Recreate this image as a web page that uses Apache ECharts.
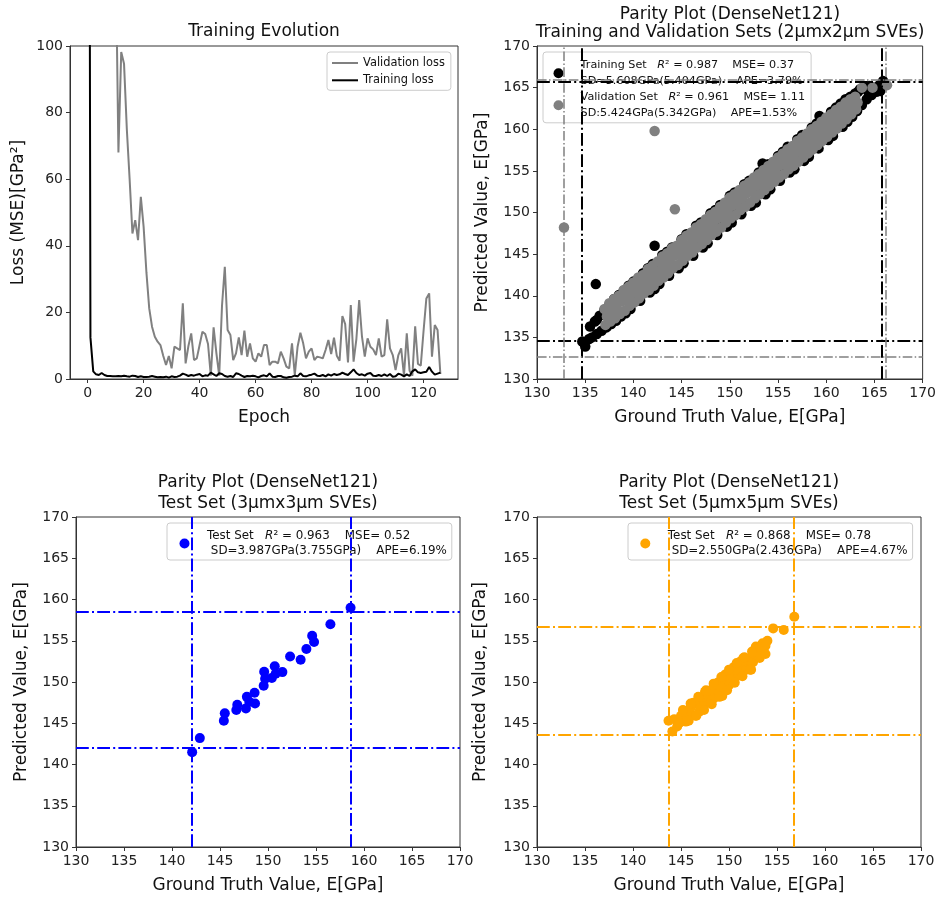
<!DOCTYPE html>
<html>
<head>
<meta charset="utf-8">
<title>DenseNet121 training and parity plots</title>
<script src="https://cdn.jsdelivr.net/npm/echarts@6.0.0/dist/echarts.min.js"></script>
<style>
html, body { margin: 0; padding: 0; background: #fff; }
#chart { width: 939px; height: 901px; }
</style>
</head>
<body>
<div id="chart"></div>
<script>
// loss per epoch (array index = epoch)
var valLoss = [
  950, 700, 520, 410, 340, 280, 240, 200, 170, 150,
  130, 68, 98.2, 94.7, 75, 60, 43.7, 47.7, 41.7, 54.7,
  45.7, 32, 21.2, 15.7, 12.7, 11.2, 10.2, 7.0, 4.2, 6.9,
  3.2, 9.7, 9.2, 8.7, 22.7, 4.7, 9.9, 13.7, 5.7, 6.2,
  10.2, 14.2, 13.5, 10.5, 1.0, 15.5, 7.7, 1.0, 22, 33.7,
  14.7, 13.2, 5.7, 7.7, 12.5, 7.2, 14.5, 6.7, 10.7, 6.2,
  5.2, 7.7, 6.7, 10.2, 10.2, 4.2, 5.2, 5.2, 4.7, 8.2,
  6.2, 3.7, 3.2, 10.7, 1.2, 9.7, 13.9, 10.7, 6.2, 8.2,
  9.2, 5.7, 6.7, 6.5, 6.2, 8.7, 11.7, 7.5, 12.4, 7.0,
  5.5, 18.9, 16.5, 5.0, 22.2, 5.2, 12.0, 23.7, 12.7, 6.7,
  12.2, 9.7, 8.9, 7.2, 12.2, 6.7, 7.2, 17.9, 9.2, 7.2,
  2.7, 7.2, 9.2, 1.0, 13.7, 2.5, 1.0, 15.8, 4.5, 4.0,
  14.5, 24.2, 25.7, 6.7, 16.2, 14.7, 1.5
];
var trainLoss = [
  450, 12.5, 2.3, 1.4, 1.2, 1.8, 1.2, 0.9, 0.9, 0.8,
  0.8, 0.9, 0.8, 1.0, 0.8, 0.7, 1.0, 0.9, 0.6, 0.8,
  0.6, 0.6, 0.7, 0.9, 0.7, 0.5, 0.6, 0.5, 0.7, 0.4,
  0.8, 0.6, 0.7, 1.0, 1.6, 1.3, 0.9, 1.2, 1.0, 1.3,
  1.5, 0.8, 1.1, 1.0, 1.9, 1.4, 0.9, 1.7, 1.5, 0.9,
  0.7, 0.9, 0.6, 1.7, 1.5, 1.0, 0.6, 0.9, 0.8, 1.0,
  0.8, 0.5, 0.9, 1.1, 0.8, 1.7, 0.7, 0.6, 0.9, 0.9,
  0.5, 0.4, 0.6, 0.7, 1.0, 0.8, 1.7, 0.9, 0.8, 1.1,
  1.3, 1.6, 1.0, 0.9, 1.2, 0.8, 1.4, 1.0, 1.5, 1.2,
  1.4, 1.9, 1.5, 1.2, 2.0, 2.9, 1.8, 1.2, 1.4, 1.0,
  1.6, 1.8, 1.0, 0.9, 1.2, 0.9, 1.4, 0.9, 1.5, 0.7,
  0.8, 1.6, 1.3, 0.8, 1.4, 0.9, 2.3, 2.9, 2.0, 1.8,
  2.0, 2.2, 3.6, 2.2, 1.3, 1.6, 1.9
];
var epochTicks = [0, 20, 40, 60, 80, 100, 120];

// [ground truth, predicted] in GPa
var trainSet = [
  [134.7,134.5],[135.0,133.9],[135.4,134.8],[136.2,137.1],[136.1,141.4],[141.5,143.2],[142.2,146.0],[153.4,155.9],
  [155.2,156.7],[159.3,161.6],[165.9,165.8],[163.3,164.5],[164.3,164.6],
  [135.5,136.3],[135.7,135.0],[136.0,136.9],[136.2,135.4],[136.5,137.6],[136.7,135.8],[137.0,138.3],[137.2,136.2],
  [137.5,138.9],[137.7,136.6],[138.0,139.6],[138.2,137.0],[138.5,140.1],[138.7,137.5],[139.0,140.6],[139.2,137.9],
  [139.5,141.2],[139.7,138.4],[140.0,141.7],[140.2,139.5],[140.5,142.0],[140.7,139.4],[141.0,142.7],[141.2,140.5],
  [141.5,143.3],[141.7,140.4],[142.0,143.8],[142.2,140.8],[142.5,143.9],[142.7,141.4],[143.0,144.9],[143.2,142.5],
  [143.5,145.3],[143.7,142.4],[144.0,145.8],[144.2,143.5],[144.5,145.9],[144.7,143.3],[145.0,146.8],[145.2,143.9],
  [145.5,147.4],[145.7,144.9],[146.0,147.5],[146.2,144.8],[146.5,148.4],[146.7,145.9],[147.0,148.8],[147.2,145.8],
  [147.5,149.0],[147.7,146.3],[148.0,149.9],[148.2,147.4],[148.5,150.3],[148.7,147.3],[149.0,150.9],[149.2,148.4],
  [149.5,151.0],[149.7,148.3],[150.0,152.0],[150.2,148.8],[150.5,152.4],[150.7,149.9],[151.0,152.5],[151.2,149.8],
  [151.5,153.4],[151.7,150.9],[152.0,153.8],[152.2,150.8],[152.5,154.0],[152.7,151.2],[153.0,154.8],[153.2,152.4],
  [153.5,155.3],[153.7,152.2],[154.0,155.8],[154.2,152.8],[154.5,156.0],[154.7,153.9],[155.0,156.8],[155.2,153.8],
  [155.5,157.3],[155.7,154.9],[156.0,157.9],[156.2,154.8],[156.5,157.9],[156.7,155.2],[157.0,158.8],[157.2,156.4],
  [157.5,159.3],[157.7,156.2],[158.0,159.4],[158.2,156.7],[158.5,160.2],[158.7,157.9],[159.0,160.7],[159.2,157.7],
  [159.5,161.2],[159.7,158.9],[160.0,161.3],[160.2,158.7],[160.5,162.1],[160.7,159.2],[161.0,162.6],[161.2,160.4],
  [161.5,163.1],[161.7,160.3],[162.0,163.6],[162.2,160.9],[162.5,163.9],[162.7,161.5],[163.0,164.3],[163.2,162.2],
  [163.5,164.8],[163.7,162.9],[164.0,165.1],[164.2,163.6],[164.5,165.2],[164.7,164.1],[165.0,165.0],[165.2,164.5],
  [165.5,165.3],[165.6,164.6]
];
var validSet = [
  [132.8,148.2],[142.2,159.8],[144.3,150.4],[166.3,165.3],[163.7,165.0],[164.8,165.0],
  [137.0,138.4],[137.25,137.5],[137.1,136.5],[137.5,139.1],[137.75,138.2],[137.6,136.9],
  [138.0,139.6],[138.25,138.6],[138.1,137.3],[138.5,140.0],[138.75,139.3],[138.6,137.8],
  [139.0,140.7],[139.25,139.6],[139.1,138.2],[139.5,141.1],[139.75,140.2],[139.6,138.8],
  [140.0,141.6],[140.25,140.6],[140.1,139.2],[140.5,142.2],[140.75,141.2],[140.6,139.7],
  [141.0,142.5],[141.25,141.7],[141.1,140.3],[141.5,143.2],[141.75,142.1],[141.6,140.7],
  [142.0,143.6],[142.25,142.7],[142.1,141.2],[142.5,144.1],[142.75,143.0],[142.6,141.8],
  [143.0,144.7],[143.25,143.7],[143.1,142.2],[143.5,145.1],[143.75,144.1],[143.6,142.7],
  [144.0,145.7],[144.25,144.8],[144.1,143.3],[144.5,146.0],[144.75,145.1],[144.6,143.7],
  [145.0,146.7],[145.25,145.8],[145.1,144.2],[145.5,147.2],[145.75,146.1],[145.6,144.8],
  [146.0,147.6],[146.25,146.8],[146.1,145.2],[146.5,148.2],[146.75,147.2],[146.6,145.8],
  [147.0,148.6],[147.25,147.7],[147.1,146.2],[147.5,149.2],[147.75,148.3],[147.6,146.7],
  [148.0,149.7],[148.25,148.7],[148.1,147.3],[148.5,150.1],[148.75,149.3],[148.6,147.7],
  [149.0,150.7],[149.25,149.8],[149.1,148.2],[149.5,151.2],[149.75,150.3],[149.6,148.8],
  [150.0,151.8],[150.25,150.8],[150.1,149.3],[150.5,152.2],[150.75,151.3],[150.6,149.7],
  [151.0,152.7],[151.25,151.7],[151.1,150.3],[151.5,153.2],[151.75,152.3],[151.6,150.7],
  [152.0,153.6],[152.25,152.7],[152.1,151.2],[152.5,154.2],[152.75,153.2],[152.6,151.7],
  [153.0,154.6],[153.25,153.7],[153.1,152.2],[153.5,155.1],[153.75,154.2],[153.6,152.7],
  [154.0,155.6],[154.25,154.6],[154.1,153.2],[154.5,156.1],[154.75,155.2],[154.6,153.7],
  [155.0,156.6],[155.25,155.7],[155.1,154.2],[155.5,157.1],[155.75,156.1],[155.6,154.6],
  [156.0,157.6],[156.25,156.6],[156.1,155.2],[156.5,158.0],[156.75,157.1],[156.6,155.6],
  [157.0,158.6],[157.25,157.6],[157.1,156.1],[157.5,159.0],[157.75,158.1],[157.6,156.6],
  [158.0,159.5],[158.25,158.5],[158.1,157.1],[158.5,160.0],[158.75,159.0],[158.6,157.6],
  [159.0,160.4],[159.25,159.5],[159.1,158.1],[159.5,160.9],[159.75,160.0],[159.6,158.6],
  [160.0,161.4],[160.25,160.4],[160.1,159.1],[160.5,161.8],[160.75,160.9],[160.6,159.6],
  [161.0,162.3],[161.25,161.4],[161.1,160.1],[161.5,162.7],[161.75,161.8],[161.6,160.7],
  [162.0,163.2],[162.25,162.3],[162.1,161.2],[162.5,163.6],[162.75,162.8],[162.6,161.8],
  [163.0,163.9],[163.25,163.2],[163.1,162.4]
];
var test3Set = [
  [158.6,159.0],[156.5,157.0],[154.6,155.6],[154.8,154.85],[154.0,154.0],[153.4,152.7],[152.3,153.1],[151.5,151.2],
  [150.7,151.9],[150.8,151.0],[150.4,150.5],[149.6,151.25],[149.7,150.4],[149.55,149.55],[148.6,148.7],[148.65,147.4],
  [147.8,148.2],[147.7,146.8],[146.8,147.25],[146.7,146.6],[148.05,147.6],[145.5,146.2],[145.4,145.3],[142.9,143.2],
  [142.1,141.5]
];
var test5Set = [
  [143.7,145.3],[144.1,144.0],[144.3,145.5],[144.6,144.6],[145.0,145.9],[145.3,146.3],[145.5,145.2],[145.8,146.6],
  [146.1,146.1],[146.3,147.5],[146.5,145.9],[146.8,147.3],[147.0,146.8],[147.2,148.1],[147.4,147.3],[147.5,148.8],
  [147.7,147.8],[147.9,148.4],[148.1,147.6],[148.3,149.2],[148.5,148.5],[148.7,149.6],[148.8,149.9],[149.0,148.9],
  [149.2,150.3],[149.3,148.3],[149.5,149.6],[149.6,150.9],[149.8,150.4],[150.0,149.6],[150.2,151.2],[150.4,150.0],
  [150.5,151.8],[150.7,151.1],[150.9,152.2],[151.1,151.4],[151.2,152.5],[151.4,151.8],[151.6,152.3],[151.8,151.5],
  [152.0,152.7],[152.3,151.5],[152.3,153.0],[152.5,152.4],[152.8,154.3],[152.9,153.1],[153.1,153.6],[153.3,154.2],
  [153.5,154.7],[153.6,153.7],[153.8,154.4],[154.0,155.0],[154.6,156.5],[155.7,156.3],[156.8,157.9],[146.0,146.9],
  [147.3,147.0],[148.0,148.9],[149.1,149.4],[150.3,150.7],[151.0,150.8],[151.5,152.9],[152.7,153.4],[145.6,146.0],
  [144.8,145.0],[146.9,146.4],[148.4,148.0],[150.8,151.5],[153.0,154.0],
  [145.2,146.6],[146.0,147.4],[146.8,148.2],[147.6,149.0],[148.4,149.8],[149.2,150.6],[150.0,151.5],[150.8,152.3],
  [151.6,153.0],[152.4,153.7],[145.8,145.3],[146.6,145.9],[147.4,146.6],[148.2,147.3],[149.0,148.2],[149.8,149.0],
  [150.6,149.9],[151.4,150.7],[152.2,151.5],[153.2,152.9],[153.8,153.4]
];

// dash-dot bounds [low, high]
var trainLimX = [134.65, 165.8], trainLimY = [134.56, 165.76];
var validLimX = [132.75, 166.15], validLimY = [132.64, 165.96];
var test3LimX = [142.1, 158.6], test3LimY = [142.0, 158.5];
var test5LimX = [143.7, 156.7], test5LimY = [143.6, 156.7];

var FONT = 'DejaVu Sans';
var chart = echarts.init(document.getElementById('chart'));

function axis(grid, name, gap, min, max, interval) {
  return {
    type: 'value', gridIndex: grid, min: min, max: max, interval: interval,
    name: name, nameLocation: 'middle', nameGap: gap,
    nameTextStyle: { fontFamily: FONT, fontSize: 17, color: '#111' },
    axisLine: { show: true, onZero: false, lineStyle: { color: '#333' } },
    axisTick: { show: true, length: 4, lineStyle: { color: '#333' } },
    axisLabel: { fontFamily: FONT, fontSize: 14, color: '#222', margin: 7 },
    splitLine: { show: false }
  };
}

function guide(limX, limY, color, width) {
  var dash = width >= 2 ? [12.8, 3.2, 2, 3.2] : [9.6, 2.4, 1.5, 2.4];
  return {
    silent: true, symbol: 'none', label: { show: false }, animation: false,
    lineStyle: { color: color, width: width, type: dash, opacity: 1 },
    emphasis: { disabled: true },
    data: limX.map(function (v) { return { xAxis: v }; })
      .concat(limY.map(function (v) { return { yAxis: v }; }))
  };
}

var legendText = {
  'Training Set': '{n|  Training Set   }{i|R}{n|² = 0.987    MSE= 0.37}\n{n|  SD=5.608GPa(5.404GPa)    APE=3.79%}',
  'Validation Set': '{n|  Validation Set   }{i|R}{n|² = 0.961    MSE= 1.11}\n{n|  SD:5.424GPa(5.342GPa)    APE=1.53%}',
  'Test Set 3': '{n|  Test Set   }{i|R}{n|² = 0.963    MSE= 0.52}\n{n|   SD=3.987GPa(3.755GPa)    APE=6.19%}',
  'Test Set 5': '{n|  Test Set   }{i|R}{n|² = 0.868    MSE= 0.78}\n{n|   SD=2.550GPa(2.436GPa)    APE=4.67%}'
};

function boxLegend(names, left, top, pad, size, lh, gap) {
  return {
    data: names, orient: 'vertical', left: left, top: top, padding: pad,
    itemWidth: 20, itemHeight: 10, itemGap: gap, selectedMode: false,
    borderColor: '#ccc', borderWidth: 1, borderRadius: 3,
    backgroundColor: 'rgba(255,255,255,0.8)',
    formatter: function (name) { return legendText[name]; },
    textStyle: {
      rich: {
        n: { fontFamily: FONT, fontSize: size, color: '#111', lineHeight: lh },
        i: { fontFamily: FONT, fontSize: size, color: '#111', lineHeight: lh, fontStyle: 'italic' }
      }
    }
  };
}

var titleStyle = { fontFamily: FONT, fontSize: 17, fontWeight: 'normal', color: '#111' };

var option = {
  animation: false,
  backgroundColor: '#fff',
  title: [
    { text: 'Training Evolution', left: 264, top: 23.5, textAlign: 'center', padding: 0, textStyle: titleStyle },
    { text: 'Parity Plot (DenseNet121)\nTraining and Validation Sets (2μmx2μm SVEs)', left: 730, top: 5, textAlign: 'center', padding: 0,
      textStyle: Object.assign({ lineHeight: 18.5 }, titleStyle) },
    { text: 'Parity Plot (DenseNet121)\nTest Set (3μmx3μm SVEs)', left: 268, top: 472, textAlign: 'center', padding: 0,
      textStyle: Object.assign({ lineHeight: 21 }, titleStyle) },
    { text: 'Parity Plot (DenseNet121)\nTest Set (5μmx5μm SVEs)', left: 729, top: 472, textAlign: 'center', padding: 0,
      textStyle: Object.assign({ lineHeight: 21 }, titleStyle) }
  ],
  grid: [
    { left: 70, top: 46, width: 388, height: 333 },
    { left: 537, top: 46, width: 387, height: 333 },
    { left: 76, top: 517, width: 384, height: 330 },
    { left: 537, top: 517, width: 384, height: 330 }
  ].map(function (g) {
    return Object.assign({ show: true, borderColor: '#333', borderWidth: 1, containLabel: false }, g);
  }),
  xAxis: [
    Object.assign(axis(0, 'Epoch', 30, -6.3, 132.3), {
      axisTick: { show: true, length: 4, lineStyle: { color: '#333' }, customValues: epochTicks },
      axisLabel: { fontFamily: FONT, fontSize: 14, color: '#222', margin: 7, customValues: epochTicks }
    }),
    axis(1, 'Ground Truth Value, E[GPa]', 30, 130, 170, 5),
    axis(2, 'Ground Truth Value, E[GPa]', 30, 130, 170, 5),
    axis(3, 'Ground Truth Value, E[GPa]', 30, 130, 170, 5)
  ],
  yAxis: [
    axis(0, 'Loss (MSE)[GPa²]', 43, 0, 100, 20),
    axis(1, 'Predicted Value, E[GPa]', 46, 130, 170, 5),
    axis(2, 'Predicted Value, E[GPa]', 46, 130, 170, 5),
    axis(3, 'Predicted Value, E[GPa]', 48, 130, 170, 5)
  ],
  legend: [
    {
      data: [{ name: 'Validation loss', icon: 'rect' }, { name: 'Training loss', icon: 'rect' }],
      orient: 'vertical', left: 327, top: 52,
      padding: [4, 6, 3, 5], itemWidth: 26, itemHeight: 2, itemGap: 3.3, selectedMode: false,
      borderColor: '#ccc', borderWidth: 1, borderRadius: 3, backgroundColor: 'rgba(255,255,255,0.8)',
      textStyle: { fontFamily: FONT, fontSize: 11.4, color: '#111', lineHeight: 14 }
    },
    boxLegend(['Training Set', 'Validation Set'], 543, 52, [7.8, 6, 4, 10.5], 11.2, 16, 5),
    boxLegend(['Test Set 3'], 167, 523, [7, 5, 3, 12.5], 11.9, 15, 2),
    boxLegend(['Test Set 5'], 628, 523, [7, 5, 3, 12.3], 11.9, 15, 2)
  ],
  series: [
    {
      type: 'line', name: 'Validation loss', xAxisIndex: 0, yAxisIndex: 0, symbol: 'none', clip: true,
      data: valLoss.map(function (v, i) { return [i, v]; }),
      lineStyle: { color: '#808080', width: 2 }, itemStyle: { color: '#808080' }
    },
    {
      type: 'line', name: 'Training loss', xAxisIndex: 0, yAxisIndex: 0, symbol: 'none', clip: true,
      data: trainLoss.map(function (v, i) { return [i, v]; }),
      lineStyle: { color: '#000', width: 2 }, itemStyle: { color: '#000' }
    },
    {
      type: 'scatter', name: 'Training Set', xAxisIndex: 1, yAxisIndex: 1, data: trainSet, symbolSize: 10.5,
      itemStyle: { color: '#000', opacity: 1 }, markLine: guide(trainLimX, trainLimY, '#000', 2)
    },
    {
      type: 'scatter', name: 'Validation Set', xAxisIndex: 1, yAxisIndex: 1, data: validSet, symbolSize: 10.5,
      itemStyle: { color: '#808080', opacity: 1 }, markLine: guide(validLimX, validLimY, '#808080', 1.5)
    },
    {
      type: 'scatter', name: 'Test Set 3', xAxisIndex: 2, yAxisIndex: 2, data: test3Set, symbolSize: 10,
      itemStyle: { color: '#0000ff', opacity: 1 }, markLine: guide(test3LimX, test3LimY, '#0000ff', 2)
    },
    {
      type: 'scatter', name: 'Test Set 5', xAxisIndex: 3, yAxisIndex: 3, data: test5Set, symbolSize: 10,
      itemStyle: { color: '#ffa500', opacity: 1 }, markLine: guide(test5LimX, test5LimY, '#ffa500', 2)
    }
  ]
};

chart.setOption(option);
</script>
</body>
</html>
